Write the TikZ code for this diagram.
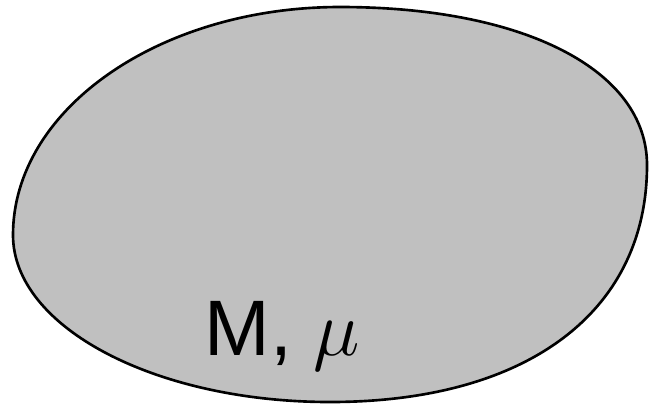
\documentclass[tikz,border=0pt]{standalone}
\usepackage{fontspec}
\setsansfont{Liberation Sans}
\usepackage{tikz}
\usetikzlibrary{positioning}
\definecolor{manifoldgrey}{HTML}{C0C0C0}

\begin{document}
\begin{tikzpicture}[x=0.02cm, y=-0.02cm]
      \useasboundingbox (0,0) rectangle (651,407);
      % blob for the manifold
      \draw[fill=manifoldgrey, line width=1.5pt]
        (13,235) .. controls (13,109) and (160,7) .. (340,7)
        .. controls (524,7) and (647,70) .. (647,165)
        .. controls (647,312) and (527,402) .. (330,402)
        .. controls (155,402) and (13,327) .. cycle;
      \node[font=\sffamily\Huge, scale=1.8, inner sep=0pt, anchor=base west] (label) at (204,355) {M, $\mu$};
    \end{tikzpicture}
\end{document}
